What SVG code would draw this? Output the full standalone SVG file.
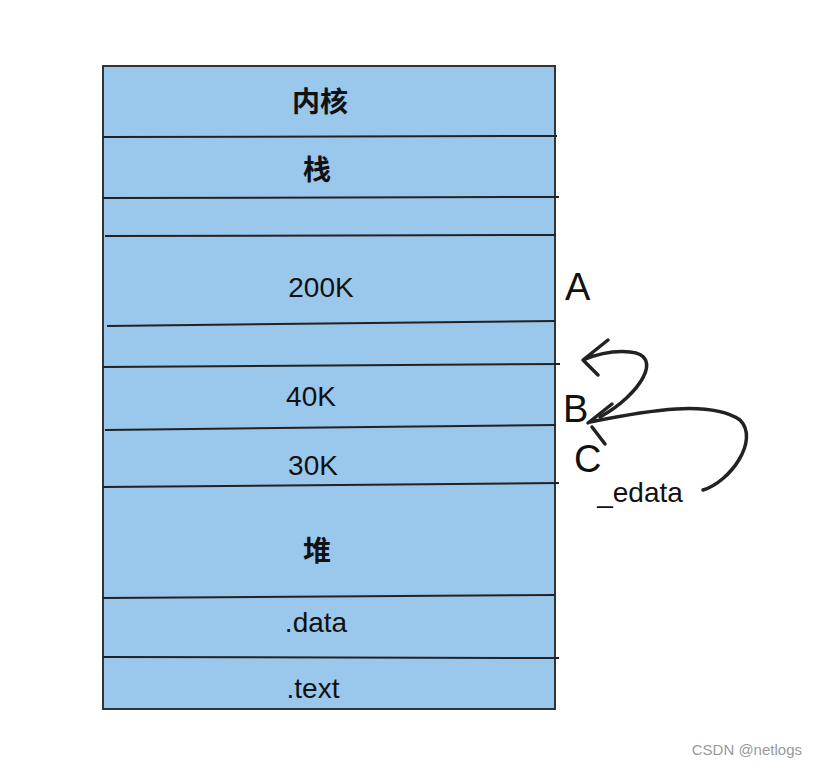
<svg xmlns="http://www.w3.org/2000/svg" width="817" height="772" viewBox="0 0 817 772">
<style>
.sep{stroke:#222;stroke-width:2;fill:none}
.b{font-family:"Noto Sans CJK SC",sans-serif;font-weight:bold;font-size:28px;fill:#111;text-anchor:middle}
.h{font-family:"Comic Sans MS","Liberation Sans",sans-serif;font-size:28px;fill:#111;text-anchor:middle}
.l{font-family:"Liberation Sans",sans-serif;font-size:38px;fill:#111}
.c{stroke:#222;stroke-width:3.5;fill:none;stroke-linecap:round;stroke-linejoin:round}
</style>
<rect width="817" height="772" fill="#fff"/>
<g id="box">
<rect x="103" y="66" width="452" height="643" fill="#9ac8ed" stroke="#333" stroke-width="2"/>
</g>
<g id="connectors">
<path class="sep" d="M103 137 L557 136"/>
<path class="sep" d="M103 198 L559 197"/>
<path class="sep" d="M105 236 L556 235"/>
<path class="sep" d="M107 326 L555 321"/>
<path class="sep" d="M103 367 L560 364"/>
<path class="sep" d="M105 430 L556 425"/>
<path class="sep" d="M103 487 L559 483"/>
<path class="sep" d="M103 598 L555 595"/>
<path class="sep" d="M103 657 L559 658"/>
<path class="c" d="M600 417 C640 395 665 355 630 352 C610 350 595 355 583 360 M608 340 L583 360 L598 375"/>
<path class="c" d="M703 490 C730 482 760 440 740 420 C710 400 650 410 590 422 M612 404 L588 423 M592 427 L605 444"/>
</g>
<g id="n1"><text class="b" x="320" y="112">内核</text></g>
<g id="n2"><text class="b" x="317" y="180">栈</text></g>
<g id="n3"><text class="h" x="321" y="297">200K</text></g>
<g id="n4"><text class="h" x="311" y="406">40K</text></g>
<g id="n5"><text class="h" x="313" y="475">30K</text></g>
<g id="n6"><text class="b" x="317" y="561">堆</text></g>
<g id="n7"><text class="h" x="316" y="632">.data</text></g>
<g id="n8"><text class="h" x="313" y="698">.text</text></g>
<g id="labels">
<text class="l" x="565" y="300">A</text>
<text class="l" x="563" y="422">B</text>
<text class="l" x="574" y="472" font-size="34">C</text>
<text class="h" x="640" y="502">_edata</text>
<text x="802" y="755" font-family="Liberation Sans,sans-serif" font-size="15" fill="#999" text-anchor="end">CSDN @netlogs</text>
</g>
</svg>
